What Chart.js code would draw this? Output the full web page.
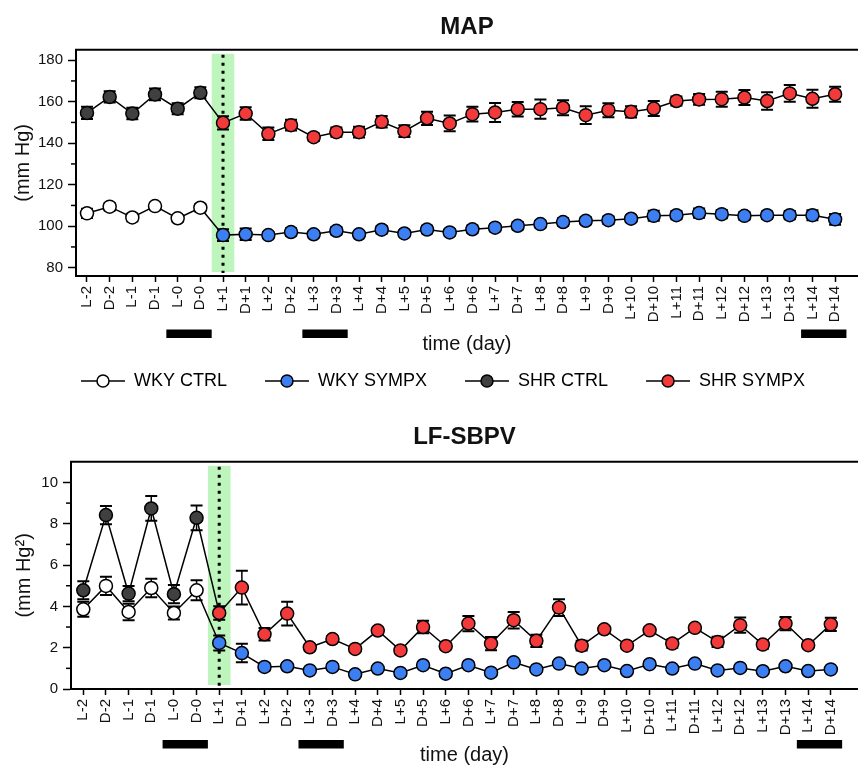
<!DOCTYPE html>
<html>
<head>
<meta charset="utf-8">
<title>MAP / LF-SBPV</title>
<script src="https://cdn.jsdelivr.net/npm/chart.js@4.4.1/dist/chart.umd.min.js"></script>
<style>
  html, body { margin: 0; padding: 0; background: #fff; overflow: hidden; }
  #wrap { width: 858px; height: 765px; position: relative; overflow: hidden; }
  .box { position: absolute; left: 0; width: 866px; }
  #mapBox { top: 0; height: 400px; }
  #lfBox { top: 400px; height: 365px; }
</style>
</head>
<body>
<div id="wrap">
  <div class="box" id="mapBox"><canvas id="mapChart"></canvas></div>
  <div class="box" id="lfBox"><canvas id="lfChart"></canvas></div>
</div>
<script>
// x categories (days)
const dayLabels = ['L-2', 'D-2', 'L-1', 'D-1', 'L-0', 'D-0',
  'L+1', 'D+1', 'L+2', 'D+2', 'L+3', 'D+3', 'L+4', 'D+4', 'L+5', 'D+5',
  'L+6', 'D+6', 'L+7', 'D+7', 'L+8', 'D+8', 'L+9', 'D+9', 'L+10', 'D+10',
  'L+11', 'D+11', 'L+12', 'D+12', 'L+13', 'D+13', 'L+14', 'D+14'];

// MAP (mm Hg), mean and SEM
const wkyCtrlMap = [106.2, 109.4, 104.2, 109.7, 103.8, 108.9];
const wkyCtrlMapErr = [2.2, 1.8, 1.8, 1.6, 1.6, 1.8];
const wkySympxMap = [95.7, 96.1, 95.7, 97.2, 96.1, 97.8, 96.1, 98.3, 96.5, 98.4, 97.0, 98.5, 99.3, 100.2,
  101.0, 102.0, 102.6, 102.9, 103.6, 105.0, 105.3, 106.3, 105.8, 105.0, 105.3, 105.3, 105.3, 103.3];
const wkySympxMapErr = [2.8, 2.8, 1.5, 1.8, 1.5, 1.8, 1.5, 1.8, 1.5, 1.8, 1.6, 1.8, 1.7, 1.8,
  1.6, 1.8, 1.7, 1.8, 1.6, 2.4, 2.0, 2.2, 2.0, 1.9, 1.8, 2.0, 2.4, 2.6];
const shrCtrlMap = [154.6, 162.3, 154.3, 163.5, 156.6, 164.3];
const shrCtrlMapErr = [3.0, 2.7, 2.8, 2.8, 2.6, 2.7];
const shrSympxMap = [149.8, 154.3, 144.5, 148.7, 142.9, 145.3, 145.3, 150.3, 145.8, 152.0, 149.5, 154.0, 154.8, 156.4,
  156.4, 157.1, 153.5, 155.9, 155.1, 156.7, 160.3, 161.1, 161.2, 162.0, 160.3, 164.0, 161.4, 163.6];
const shrSympxMapErr = [3.2, 3.0, 3.0, 2.6, 1.8, 2.2, 2.6, 2.8, 2.8, 3.2, 3.8, 3.6, 4.6, 3.5,
  4.6, 3.6, 4.3, 3.4, 2.7, 3.6, 2.2, 2.6, 3.6, 3.6, 4.2, 4.0, 4.3, 3.6];

// LF-SBPV (mm Hg^2), mean and SEM
const wkyCtrlLf = [3.86, 4.99, 3.73, 4.89, 3.68, 4.78];
const wkyCtrlLfErr = [0.36, 0.44, 0.40, 0.45, 0.32, 0.48];
const wkySympxLf = [2.23, 1.74, 1.07, 1.10, 0.90, 1.07, 0.71, 0.99, 0.78, 1.15, 0.74, 1.15, 0.79, 1.29,
  0.95, 1.23, 0.99, 1.15, 0.87, 1.20, 0.99, 1.23, 0.90, 1.02, 0.86, 1.10, 0.87, 0.95];
const wkySympxLfErr = [0.36, 0.45, 0.18, 0.15, 0.12, 0.12, 0.12, 0.12, 0.12, 0.12, 0.12, 0.12, 0.12, 0.12,
  0.12, 0.12, 0.12, 0.12, 0.12, 0.12, 0.12, 0.12, 0.12, 0.12, 0.12, 0.12, 0.12, 0.12];
const shrCtrlLf = [4.78, 8.42, 4.62, 8.74, 4.59, 8.29];
const shrCtrlLfErr = [0.44, 0.44, 0.37, 0.60, 0.44, 0.60];
const shrSympxLf = [3.68, 4.91, 2.65, 3.65, 2.02, 2.42, 1.94, 2.83, 1.87, 3.00, 2.07, 3.17, 2.20, 3.33,
  2.33, 3.94, 2.10, 2.89, 2.10, 2.84, 2.20, 2.96, 2.28, 3.09, 2.15, 3.17, 2.12, 3.13];
const shrSympxLfErr = [0.33, 0.82, 0.30, 0.57, 0.15, 0.15, 0.12, 0.15, 0.15, 0.30, 0.15, 0.37, 0.32, 0.40,
  0.30, 0.40, 0.23, 0.15, 0.15, 0.15, 0.20, 0.15, 0.25, 0.37, 0.20, 0.32, 0.15, 0.32];

// y tick labels
const mapTicks = [80, 100, 120, 140, 160, 180];
const mapMinor = [90, 110, 130, 150, 170];
const lfTicks = [0, 2, 4, 6, 8, 10];
const lfMinor = [1, 3, 5, 7, 9];

// day index of the surgery mark, and day ranges under the black bars
const treatDay = 6;
const barDays = [[4, 5], [10, 11], [32, 33]];

const ink = '#111';
const colors = { wkyCtrl: '#ffffff', wkySympx: '#3b7ff2', shrCtrl: '#404040', shrSympx: '#f23a3a' };
const fontFamily = "'Liberation Sans', Arial, sans-serif";
Chart.defaults.font.family = fontFamily;
Chart.defaults.color = ink;

// join ctrl + sympx days into one connected series
function series(ctrl, sympx, ctrlErr, sympxErr, ctrlColor, sympxColor) {
  const vals = ctrl.concat(sympx);
  return {
    data: vals.map((v, i) => ({ x: i, y: v })),
    errors: ctrlErr.concat(sympxErr),
    borderColor: '#000',
    borderWidth: 1.5,
    pointRadius: 6.5,
    pointHoverRadius: 6.5,
    pointBorderWidth: 1.5,
    pointBorderColor: '#000',
    pointBackgroundColor: vals.map((v, i) => i < ctrl.length ? ctrlColor : sympxColor),
    tension: 0
  };
}

function legendMarker(fill) {
  const c = document.createElement('canvas');
  c.width = 64; c.height = 16;
  const g = c.getContext('2d');
  g.strokeStyle = '#000';
  g.lineWidth = 1.5;
  g.beginPath(); g.moveTo(20, 8); g.lineTo(64, 8); g.stroke();
  g.beginPath(); g.arc(42, 8, 6, 0, Math.PI * 2);
  g.fillStyle = fill; g.fill(); g.stroke();
  return c;
}

const legendEntries = [
  ['WKY CTRL', colors.wkyCtrl], ['WKY SYMPX', colors.wkySympx],
  ['SHR CTRL', colors.shrCtrl], ['SHR SYMPX', colors.shrSympx]
];

// band, dotted line, error bars, frame top, minor ticks, black bars
const decor = {
  id: 'decor',
  beforeDatasetsDraw(chart, args, opts) {
    const { ctx, chartArea: a, scales: { x, y } } = chart;
    ctx.save();
    const bl = x.getPixelForValue(opts.treatAt - 0.5);
    const br = x.getPixelForValue(opts.treatAt + 0.5);
    ctx.fillStyle = '#bdf5bd';
    ctx.fillRect(bl, a.top + 4, br - bl, a.bottom - a.top - 8);

    const tx = x.getPixelForValue(opts.treatAt);
    ctx.strokeStyle = '#000';
    ctx.lineWidth = 3;
    ctx.setLineDash([3, 5]);
    ctx.beginPath();
    ctx.moveTo(tx, a.top + 5);
    ctx.lineTo(tx, a.bottom - 3);
    ctx.stroke();
    ctx.setLineDash([]);

    chart.data.datasets.forEach(ds => {
      ds.data.forEach((p, i) => {
        const e = ds.errors[i];
        const px = x.getPixelForValue(p.x);
        const t = y.getPixelForValue(p.y + e);
        const b = y.getPixelForValue(p.y - e);
        ctx.lineWidth = 1.5;
        ctx.beginPath(); ctx.moveTo(px, t); ctx.lineTo(px, b); ctx.stroke();
        ctx.lineWidth = 2;
        ctx.beginPath();
        ctx.moveTo(px - 6, t); ctx.lineTo(px + 6, t);
        ctx.moveTo(px - 6, b); ctx.lineTo(px + 6, b);
        ctx.stroke();
      });
    });
    ctx.restore();
  },
  afterDraw(chart, args, opts) {
    const { ctx, chartArea: a, scales: { x, y } } = chart;
    ctx.save();
    ctx.strokeStyle = '#000';
    ctx.lineWidth = 2;
    ctx.beginPath(); ctx.moveTo(a.left - 1, a.top); ctx.lineTo(a.right + 10, a.top); ctx.stroke();

    ctx.lineWidth = 1.5;
    opts.minor.forEach(v => {
      const py = y.getPixelForValue(v);
      ctx.beginPath(); ctx.moveTo(a.left - 5, py); ctx.lineTo(a.left, py); ctx.stroke();
    });

    ctx.fillStyle = '#000';
    opts.bars.forEach(([s, e]) => {
      const l = x.getPixelForValue(s - 0.5);
      const r = x.getPixelForValue(e + 0.5);
      ctx.fillRect(l, opts.barTop, r - l, 8.5);
    });
    ctx.restore();
  }
};

function axisX(min, max, height, titlePad) {
  return {
    type: 'linear', min: min, max: max,
    afterBuildTicks: s => { s.ticks = dayLabels.map((l, i) => ({ value: i })); },
    afterFit: s => { s.height = height; },
    ticks: {
      autoSkip: false, minRotation: 90, maxRotation: 90, padding: 4,
      font: { size: 15 }, color: ink,
      callback: v => dayLabels[v]
    },
    grid: { drawOnChartArea: false, drawTicks: true, tickLength: 6, tickColor: '#000', tickWidth: 1.5 },
    border: { display: true, color: '#000', width: 2 },
    title: { display: true, text: 'time (day)', font: { size: 20 }, color: ink, padding: { top: 0, bottom: titlePad } }
  };
}

function axisY(min, max, ticks, width, title, titlePad) {
  return {
    min: min, max: max,
    afterBuildTicks: s => { s.ticks = ticks.map(v => ({ value: v })); },
    afterFit: s => { s.width = width; },
    ticks: { font: { size: 15 }, color: ink, padding: 5 },
    grid: { drawOnChartArea: false, drawTicks: true, tickLength: 8, tickColor: '#000', tickWidth: 1.5 },
    border: { display: true, color: '#000', width: 2 },
    title: { display: true, text: title, font: { size: 20 }, color: ink, padding: { top: titlePad, bottom: 0 } }
  };
}

new Chart(document.getElementById('mapChart'), {
  type: 'line',
  data: {
    datasets: [
      series(wkyCtrlMap, wkySympxMap, wkyCtrlMapErr, wkySympxMapErr, colors.wkyCtrl, colors.wkySympx),
      series(shrCtrlMap, shrSympxMap, shrCtrlMapErr, shrSympxMapErr, colors.shrCtrl, colors.shrSympx)
    ]
  },
  options: {
    responsive: true,
    maintainAspectRatio: false,
    animation: false,
    plugins: {
      title: {
        display: true, text: 'MAP', fullSize: false, color: ink,
        font: { size: 24, weight: 'bold' }, padding: { top: 13, bottom: 8 }
      },
      legend: {
        display: true, position: 'bottom',
        labels: {
          usePointStyle: true, pointStyleWidth: 64, padding: 18,
          font: { size: 18 }, color: ink,
          generateLabels: () => legendEntries.map(([text, fill], i) => ({
            text: text, pointStyle: legendMarker(fill), fillStyle: fill,
            strokeStyle: '#000', lineWidth: 1.5, hidden: false, datasetIndex: i
          }))
        }
      },
      tooltip: { enabled: false },
      decor: { treatAt: treatDay, bars: barDays, barTop: 329.5, minor: mapMinor }
    },
    scales: {
      x: axisX(-0.485, 34.01, 78, -2),
      y: axisY(76, 185, mapTicks, 76, '(mm Hg)', 11)
    }
  },
  plugins: [decor]
});

new Chart(document.getElementById('lfChart'), {
  type: 'line',
  data: {
    datasets: [
      series(wkyCtrlLf, wkySympxLf, wkyCtrlLfErr, wkySympxLfErr, colors.wkyCtrl, colors.wkySympx),
      series(shrCtrlLf, shrSympxLf, shrCtrlLfErr, shrSympxLfErr, colors.shrCtrl, colors.shrSympx)
    ]
  },
  options: {
    responsive: true,
    maintainAspectRatio: false,
    animation: false,
    plugins: {
      title: {
        display: true, text: 'LF-SBPV', fullSize: false, color: ink,
        font: { size: 24, weight: 'bold' }, padding: { top: 23, bottom: 10 }
      },
      legend: { display: false },
      tooltip: { enabled: false },
      decor: { treatAt: treatDay, bars: barDays, barTop: 340, minor: lfMinor }
    },
    scales: {
      x: axisX(-0.543, 34.2, 76, -2),
      y: axisY(0, 11, lfTicks, 71, '(mm Hg\u00B2)', 12)
    }
  },
  plugins: [decor]
});
</script>
</body>
</html>
